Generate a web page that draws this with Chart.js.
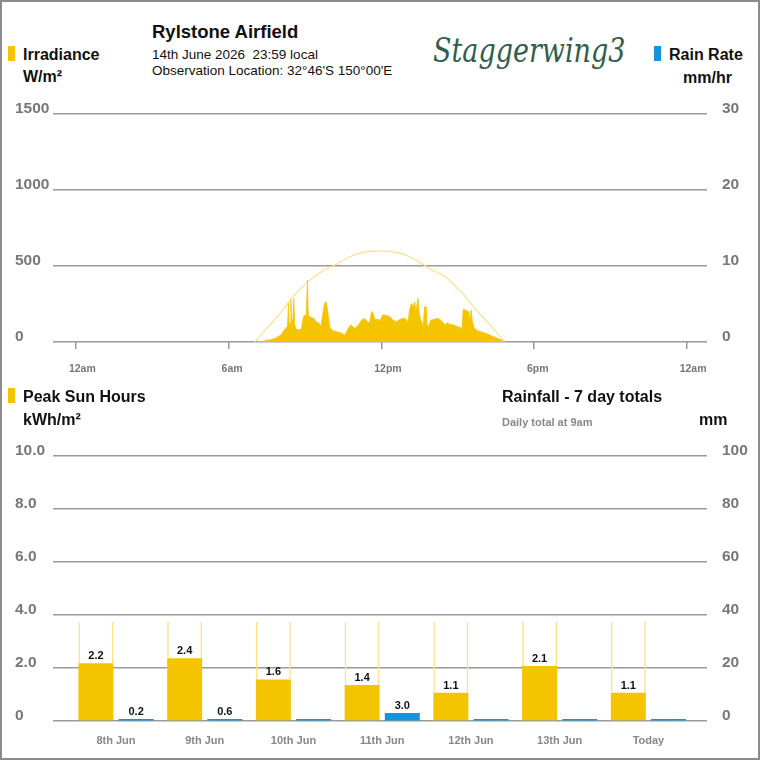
<!DOCTYPE html>
<html><head><meta charset="utf-8">
<script src="https://cdn.jsdelivr.net/npm/chart.js@4.4.1/dist/chart.umd.min.js"></script>
<style>
html,body{margin:0;padding:0;background:#fff;}
body{width:760px;height:760px;position:relative;overflow:hidden;font-family:"Liberation Sans",Arial,sans-serif;}
#frame{position:absolute;left:0;top:0;width:756px;height:756px;border:2px solid #8c8c8c;}
.t{position:absolute;white-space:nowrap;line-height:20px;}
.b{font-weight:bold;font-size:16px;color:#111;}
.mk{position:absolute;width:7px;height:15px;}
canvas{position:absolute;left:0;}
#logo{position:absolute;left:433px;top:28px;font-family:"DejaVu Serif",serif;font-style:italic;font-size:34px;line-height:44px;color:#2f5e4d;white-space:nowrap;transform-origin:0 0;}
</style></head><body>
<div id="frame"></div>
<div class="mk" style="left:8px;top:46px;background:#F5C400"></div>
<div class="t b" style="left:23px;top:45px">Irradiance</div>
<div class="t b" style="left:23px;top:67px">W/m²</div>
<div class="t" style="left:152px;top:22px;font-weight:bold;font-size:18.5px;color:#111">Rylstone Airfield</div>
<div class="t" style="left:152px;top:45px;font-size:13.5px;color:#111">14th June 2026&nbsp;&nbsp;23:59 local</div>
<div class="t" style="left:152px;top:61px;font-size:13.5px;color:#111">Observation Location: 32°46'S 150°00'E</div>
<div id="logo">Staggerwing3</div>
<div class="mk" style="left:654px;top:46px;background:#1893DB"></div>
<div class="t b" style="left:669px;top:45px">Rain Rate</div>
<div class="t b" style="right:28px;top:68px">mm/hr</div>
<canvas id="top" width="760" height="300" style="top:90px"></canvas>
<div class="mk" style="left:8px;top:388px;background:#F5C400"></div>
<div class="t b" style="left:23px;top:387px">Peak Sun Hours</div>
<div class="t b" style="left:23px;top:410px">kWh/m²</div>
<div class="t b" style="left:502px;top:387px">Rainfall - 7 day totals</div>
<div class="t" style="left:502px;top:412px;font-size:11px;font-weight:bold;color:#888">Daily total at 9am</div>
<div class="t b" style="left:699px;top:410px">mm</div>
<canvas id="bot" width="760" height="315" style="top:440px"></canvas>
<script>
// ---------- DATA ----------
const hourTicks = [0, 6, 12, 18, 24];
const hourLabels = ['12am', '6am', '12pm', '6pm', '12am'];
const irradianceTicks = [0, 500, 1000, 1500];
const rainRateTicks = [0, 10, 20, 30];

const irrTimes = [7.10,7.40,7.45,7.60,7.80,7.95,8.05,8.15,8.27,8.32,8.35,8.38,8.42,8.45,8.48,8.53,8.56,8.60,8.66,8.75,8.86,8.92,8.98,9.05,9.10,9.13,9.20,9.30,9.38,9.45,9.55,9.62,9.70,9.77,9.82,9.87,9.92,9.97,10.05,10.15,10.25,10.35,10.45,10.55,10.62,10.70,10.80,10.88,10.98,11.08,11.15,11.25,11.35,11.45,11.54,11.62,11.68,11.75,11.87,11.95,12.05,12.20,12.35,12.45,12.60,12.75,12.85,12.98,13.05,13.10,13.18,13.25,13.31,13.36,13.44,13.49,13.55,13.65,13.70,13.76,13.80,13.85,13.95,14.10,14.20,14.30,14.40,14.50,14.60,14.70,14.85,15.00,15.12,15.17,15.22,15.35,15.43,15.48,15.53,15.58,15.65,15.73,15.90,16.05,16.17,16.35,16.55,16.72,16.85];
const irrValues = [0,5,12,13,22,35,46,70,95,110,254,115,125,276,140,150,287,110,82,80,85,150,178,170,408,175,165,160,150,130,125,100,180,255,265,230,170,100,80,70,68,62,58,46,60,90,112,100,90,110,123,150,152,135,125,200,190,145,150,140,178,175,165,145,134,150,156,150,123,200,254,230,265,195,287,190,145,112,230,237,120,100,145,150,156,150,134,112,127,115,112,100,95,68,215,208,200,134,210,135,95,79,68,60,53,40,24,13,0];

const clearTimes = [7.03,7.55,7.75,8.10,8.53,9.12,9.50,9.84,10.14,10.76,11.28,11.94,12.59,13.12,13.74,13.97,14.56,15.01,15.34,15.67,16.13,16.33,16.78,16.84];
const clearValues = [0,100,135,205,298,397,445,482,503,561,590,600,590,561,500,476,425,350,292,222,138,101,13,0];

const days = ['8th Jun','9th Jun','10th Jun','11th Jun','12th Jun','13th Jun','Today'];
const peakSunHours = [2.18, 2.37, 1.57, 1.36, 1.07, 2.08, 1.07];
const clearSkySunHours = [3.75, 3.75, 3.75, 3.75, 3.75, 3.75, 3.75];
const rainfall = [0.2, 0.6, 0, 3.0, 0, 0, 0];
const sunTicks = [0, 2, 4, 6, 8, 10];
const sunTickLabels = ['0', '2.0', '4.0', '6.0', '8.0', '10.0'];
const rainTicks = [0, 20, 40, 60, 80, 100];

// ---------- STYLE ----------
Chart.defaults.font.family = '"Liberation Sans", Arial, sans-serif';
Chart.defaults.animation = false;
const GRID = '#9a9a9a';
const YELLOW = '#F5C400';
const PALE = '#FFE08A';
const BLUE = '#1893DB';
const axisFont = {size: 15.5, weight: 'bold'};

// logo fit
(function(){
  const l = document.getElementById('logo');
  const w = l.offsetWidth;
  l.style.transform = 'scaleX(' + (192 / w) + ')';
})();

function leftAxis(min, max, ticks, fmt) {
  return {
    position: 'left', min, max,
    afterBuildTicks: s => { s.ticks = ticks.map(v => ({value: v})); },
    afterFit: s => { s.width = 38; s.paddingTop = 8; s.paddingBottom = 8; },
    grid: {color: GRID, lineWidth: 1.5, drawTicks: false},
    border: {display: false},
    ticks: {crossAlign: 'far', labelOffset: -5, padding: 0, color: '#777', font: axisFont, callback: fmt}
  };
}
function rightAxis(min, max, ticks) {
  return {
    position: 'right', min, max,
    afterBuildTicks: s => { s.ticks = ticks.map(v => ({value: v})); },
    afterFit: s => { s.width = 53; s.paddingTop = 8; s.paddingBottom = 8; },
    grid: {drawOnChartArea: false, drawTicks: false},
    border: {display: false},
    ticks: {crossAlign: 'near', labelOffset: -5, padding: 15, color: '#777', font: axisFont, callback: v => v}
  };
}

// ---------- TOP CHART ----------
new Chart(document.getElementById('top'), {
  type: 'line',
  data: {
    datasets: [
      {
        label: 'Irradiance',
        data: irrTimes.map((t, i) => ({x: t, y: irrValues[i]})),
        backgroundColor: YELLOW, borderColor: YELLOW, borderWidth: 0.8,
        fill: 'origin', pointRadius: 0, tension: 0, yAxisID: 'y'
      },
      {
        label: 'Clear sky',
        data: clearTimes.map((t, i) => ({x: t, y: clearValues[i]})),
        borderColor: PALE, borderWidth: 1.2, fill: false, pointRadius: 0,
        cubicInterpolationMode: 'monotone', yAxisID: 'y'
      }
    ]
  },
  options: {
    responsive: false,
    layout: {padding: {left: 15, right: 0, top: 24, bottom: 0}},
    plugins: {legend: {display: false}, tooltip: {enabled: false}},
    scales: {
      x: {
        type: 'linear', min: -0.9, max: 24.8,
        afterBuildTicks: s => { s.ticks = hourTicks.map(v => ({value: v})); },
        afterFit: s => { s.height = 48; },
        grid: {drawOnChartArea: false, drawTicks: true, tickLength: 7, color: GRID, lineWidth: 1.5},
        border: {display: false},
        ticks: {autoSkip: false, maxRotation: 0, padding: 14, color: '#777',
                font: {size: 10.5, weight: 'bold'}, align: 'start', labelOffset: -7,
                callback: (v, i) => hourLabels[i]}
      },
      y: leftAxis(0, 1500, irradianceTicks, v => v),
      y2: rightAxis(0, 30, rainRateTicks)
    }
  }
});

// ---------- BOTTOM CHART ----------
const barLabels = {
  id: 'barLabels',
  afterDatasetsDraw(chart) {
    const ctx = chart.ctx;
    ctx.save();
    ctx.font = 'bold 11px "Liberation Sans", Arial, sans-serif';
    ctx.fillStyle = '#111';
    ctx.textAlign = 'center';
    ctx.textBaseline = 'middle';
    [[0, peakSunHours], [2, rainfall]].forEach(([di, vals]) => {
      chart.getDatasetMeta(di).data.forEach((el, i) => {
        if (vals[i] > 0) ctx.fillText(vals[i].toFixed(1), el.x, el.y - 7);
      });
    });
    ctx.restore();
  }
};

const CP = 0.906, BP = 0.87;
new Chart(document.getElementById('bot'), {
  type: 'bar',
  data: {
    datasets: [
      {
        label: 'Peak Sun Hours',
        data: days.map((d, i) => ({x: i, y: peakSunHours[i]})),
        backgroundColor: YELLOW, stack: 'sun', yAxisID: 'y',
        categoryPercentage: CP, barPercentage: BP
      },
      {
        label: 'Clear sky',
        data: days.map((d, i) => ({x: i, y: clearSkySunHours[i] - peakSunHours[i]})),
        backgroundColor: 'rgba(0,0,0,0)', borderColor: PALE,
        borderWidth: {left: 1.5, right: 1.5, top: 0, bottom: 0},
        stack: 'sun', yAxisID: 'y',
        categoryPercentage: CP, barPercentage: BP
      },
      {
        label: 'Rainfall',
        data: days.map((d, i) => ({x: i, y: rainfall[i]})),
        backgroundColor: BLUE, stack: 'rain', yAxisID: 'y2', minBarLength: 2,
        categoryPercentage: CP, barPercentage: BP
      }
    ]
  },
  options: {
    responsive: false,
    layout: {padding: {left: 15, right: 0, top: 16, bottom: 0}},
    plugins: {legend: {display: false}, tooltip: {enabled: false}},
    scales: {
      x: {
        type: 'linear', min: -0.71, max: 6.66, offset: false,
        afterBuildTicks: s => { s.ticks = days.map((d, i) => ({value: i})); },
        afterFit: s => { s.height = 34; },
        grid: {display: false, drawTicks: false},
        border: {display: false},
        ticks: {autoSkip: false, maxRotation: 0, padding: 13, color: '#888',
                font: {size: 11, weight: 'bold'}, callback: (v, i) => days[i]}
      },
      y: leftAxis(0, 10, sunTicks, (v, i) => sunTickLabels[i]),
      y2: rightAxis(0, 100, rainTicks)
    }
  },
  plugins: [barLabels]
});
</script>
</body></html>
